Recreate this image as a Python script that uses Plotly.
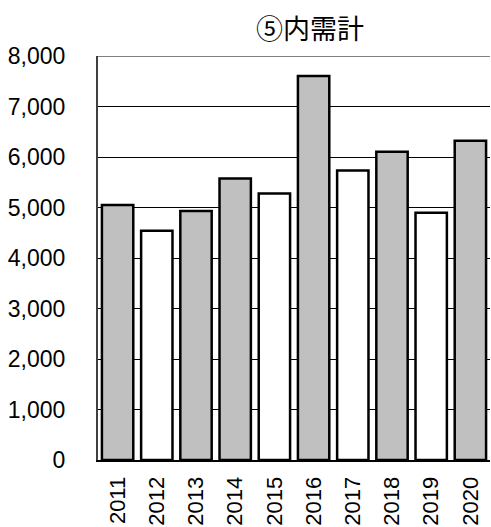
import plotly.graph_objects as go

years = ["2011", "2012", "2013", "2014", "2015", "2016", "2017", "2018", "2019", "2020"]
values = [5050, 4540, 4930, 5575, 5275, 7605, 5735, 6105, 4895, 6320]
colors = ["#c0c0c0", "#ffffff", "#c0c0c0", "#c0c0c0", "#ffffff",
          "#c0c0c0", "#ffffff", "#c0c0c0", "#ffffff", "#c0c0c0"]
title_text = "⑤内需計"
y_ticks = [0, 1000, 2000, 3000, 4000, 5000, 6000, 7000, 8000]
y_tick_labels = ["0", "1,000", "2,000", "3,000", "4,000", "5,000", "6,000", "7,000", "8,000"]

fig = go.Figure()
fig.add_trace(go.Bar(
    x=years, y=values,
    marker=dict(color=colors, line=dict(color="black", width=2.5)),
    width=0.8,
))

fig.update_layout(
    width=491, height=527,
    margin=dict(l=98, r=1, t=56, b=67, autoexpand=False),
    paper_bgcolor="white", plot_bgcolor="white",
    showlegend=False,
    font=dict(family="Liberation Sans, Arial, sans-serif", color="black"),
    annotations=[dict(
        text=title_text, xref="paper", yref="paper",
        x=0.54, y=1.0, yshift=29, xanchor="center", yanchor="middle",
        showarrow=False,
        font=dict(family="Noto Sans CJK JP", size=27, color="black"),
    )],
    shapes=[dict(type="line", xref="paper", yref="y", x0=0, x1=1, y0=8000, y1=8000,
                 line=dict(color="#808080", width=2))],
)
fig.update_yaxes(
    range=[0, 8000], tickvals=y_ticks, ticktext=y_tick_labels,
    showgrid=True, gridcolor="black", gridwidth=1,
    zeroline=False, automargin=False,
    showline=True, linecolor="#404040", linewidth=2,
    ticks="", ticklabelstandoff=26,
    tickfont=dict(size=23, family="Liberation Sans, Arial, sans-serif"),
)
fig.update_xaxes(
    showgrid=False, showline=True, linecolor="black", linewidth=2,
    automargin=False,
    tickangle=-90, ticks="", ticklabelstandoff=6,
    tickfont=dict(size=22, family="Liberation Sans, Arial, sans-serif"),
)

fig.write_html("out.html", config={"displayModeBar": False},
               post_script="document.body.style.margin='0px';document.body.style.overflow='hidden';")
